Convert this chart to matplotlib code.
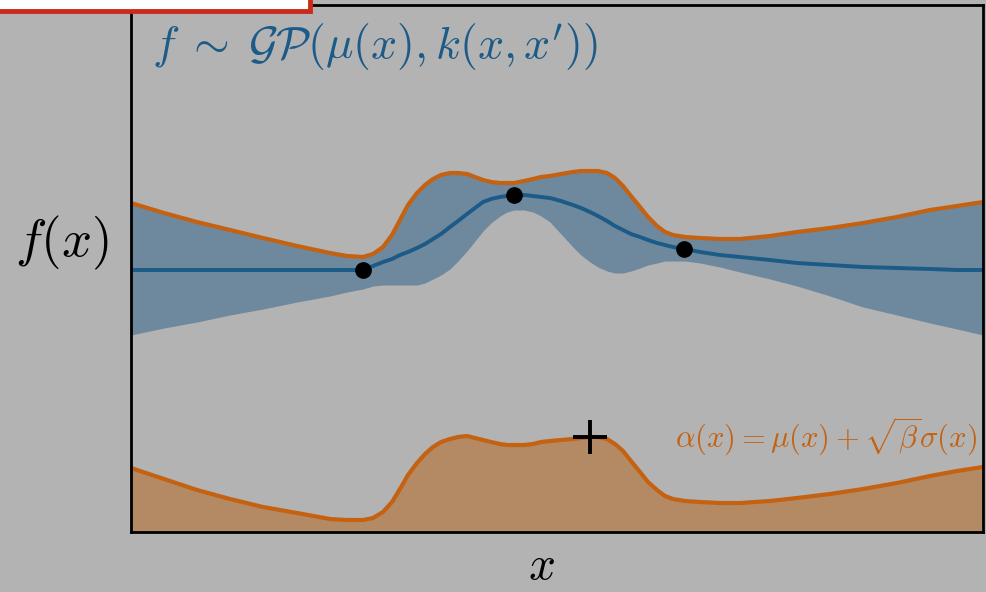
import matplotlib
matplotlib.use("Agg")
import matplotlib.pyplot as plt
from matplotlib.patches import Rectangle

plt.rcParams['mathtext.fontset'] = 'cm'

# values, in plot units (x: 0..852, y: 0..527)
x = [0, 33, 66, 99, 132, 166, 199, 216, 232, 242, 252, 261, 269, 277, 286, 294, 302, 310, 319,
     327, 336, 344, 352, 360, 369, 376, 383, 393, 402, 410, 419, 430, 442, 450, 459, 467, 476,
     484, 492, 500, 509, 517, 526, 534, 542, 554, 569, 589, 609, 639, 666, 699, 732, 766, 799,
     826, 852]
mean = [262, 262, 262, 262, 262, 262, 262, 262, 262, 266, 270, 273, 277, 280, 284, 288, 293, 298,
        305, 311, 318, 324, 330, 333, 335, 336, 337, 337, 336, 335, 334, 331, 327, 324, 320, 316,
        311, 306, 302, 298, 295, 292, 289, 287, 285, 283, 280, 277, 275, 272, 269, 267, 265, 264,
        263, 262, 262]
upper = [329, 319, 310, 302, 294, 286, 279, 276, 275, 278, 285, 297, 312, 327, 339, 347, 353, 357,
         359, 359, 358, 355, 352, 350, 349, 349, 349, 351, 353, 355, 356, 358, 360, 361, 361, 361,
         359, 354, 346, 336, 325, 315, 306, 300, 297, 295, 294, 293, 293, 296, 300, 304, 309, 315,
         322, 326, 330]
lower = [197, 204, 210, 217, 223, 230, 236, 240, 243, 246, 247, 247, 247, 247, 247, 249, 253, 257,
         263, 271, 281, 291, 301, 309, 316, 320, 322, 322, 320, 316, 310, 298, 285, 277, 270, 265,
         261, 259, 259, 261, 264, 267, 269, 271, 271, 271, 269, 265, 260, 253, 246, 236, 225, 217,
         209, 203, 197]
acq = [64, 53, 42, 33, 25, 19, 13, 12, 12, 14, 20, 30, 43, 57, 69, 78, 85, 90, 93, 95, 96, 94,
       92, 90, 88, 87, 87, 87, 88, 90, 91, 92, 93, 94, 95, 95, 93, 88, 81, 71, 60, 50, 42, 36,
       33, 31, 30, 29, 29, 31, 34, 38, 43, 49, 56, 61, 65]

obs_x = [232, 383, 553]
obs_y = [262, 337, 283]
next_x, next_y = 459, 95

bg = '#b3b3b3'
blue = '#1c5a87'
band = '#6e889e'
orange = '#c46212'
acq_fill = '#b48a64'

fig = plt.figure(figsize=(9.86, 5.92), dpi=100, facecolor=bg)
ax = fig.add_axes([131 / 986, 60 / 592, 852 / 986, 527 / 592])
ax.set_facecolor(bg)

ax.fill_between(x, lower, upper, color=band, lw=0)
ax.plot(x, upper, color=orange, lw=3, solid_joinstyle='round')
ax.plot(x, mean, color=blue, lw=2.8, solid_joinstyle='round')
ax.plot(obs_x, obs_y, 'o', color='black', ms=11)

ax.fill_between(x, 0, acq, color=acq_fill, lw=0)
ax.plot(x, acq, color=orange, lw=3, solid_joinstyle='round')
ax.plot(next_x, next_y, '+', color='black', ms=24, mew=2.8)

ax.set_xlim(0, 852)
ax.set_ylim(0, 527)
ax.set_xticks([])
ax.set_yticks([])
for s in ax.spines.values():
    s.set_linewidth(2)
    s.set_color('black')

ax.text(0.025, 0.97, r"$f\;\sim\;\mathcal{GP}(\mu(x), k(x, x'))$", transform=ax.transAxes,
        color=blue, fontsize=33, ha='left', va='top')
ax.text(0.993, 0.18, r"$\alpha(x) = \mu(x) + \sqrt{\beta}\sigma(x)$", transform=ax.transAxes,
        color=orange, fontsize=22, ha='right', va='center')
fig.text(62 / 986, 1 - 243 / 592, r"$f(x)$", fontsize=38, ha='center', va='center')
fig.text(541 / 986, 1 - 567 / 592, r"$x$", fontsize=34, ha='center', va='center')

# clipped red box at top-left
fig.patches.append(Rectangle((-0.02, 1 - 11 / 592), 330 / 986, 0.05, transform=fig.transFigure,
                             facecolor='white', edgecolor='#cc2a1a', lw=3.5, zorder=5))

fig.savefig('out.png', dpi=100, facecolor=bg)
